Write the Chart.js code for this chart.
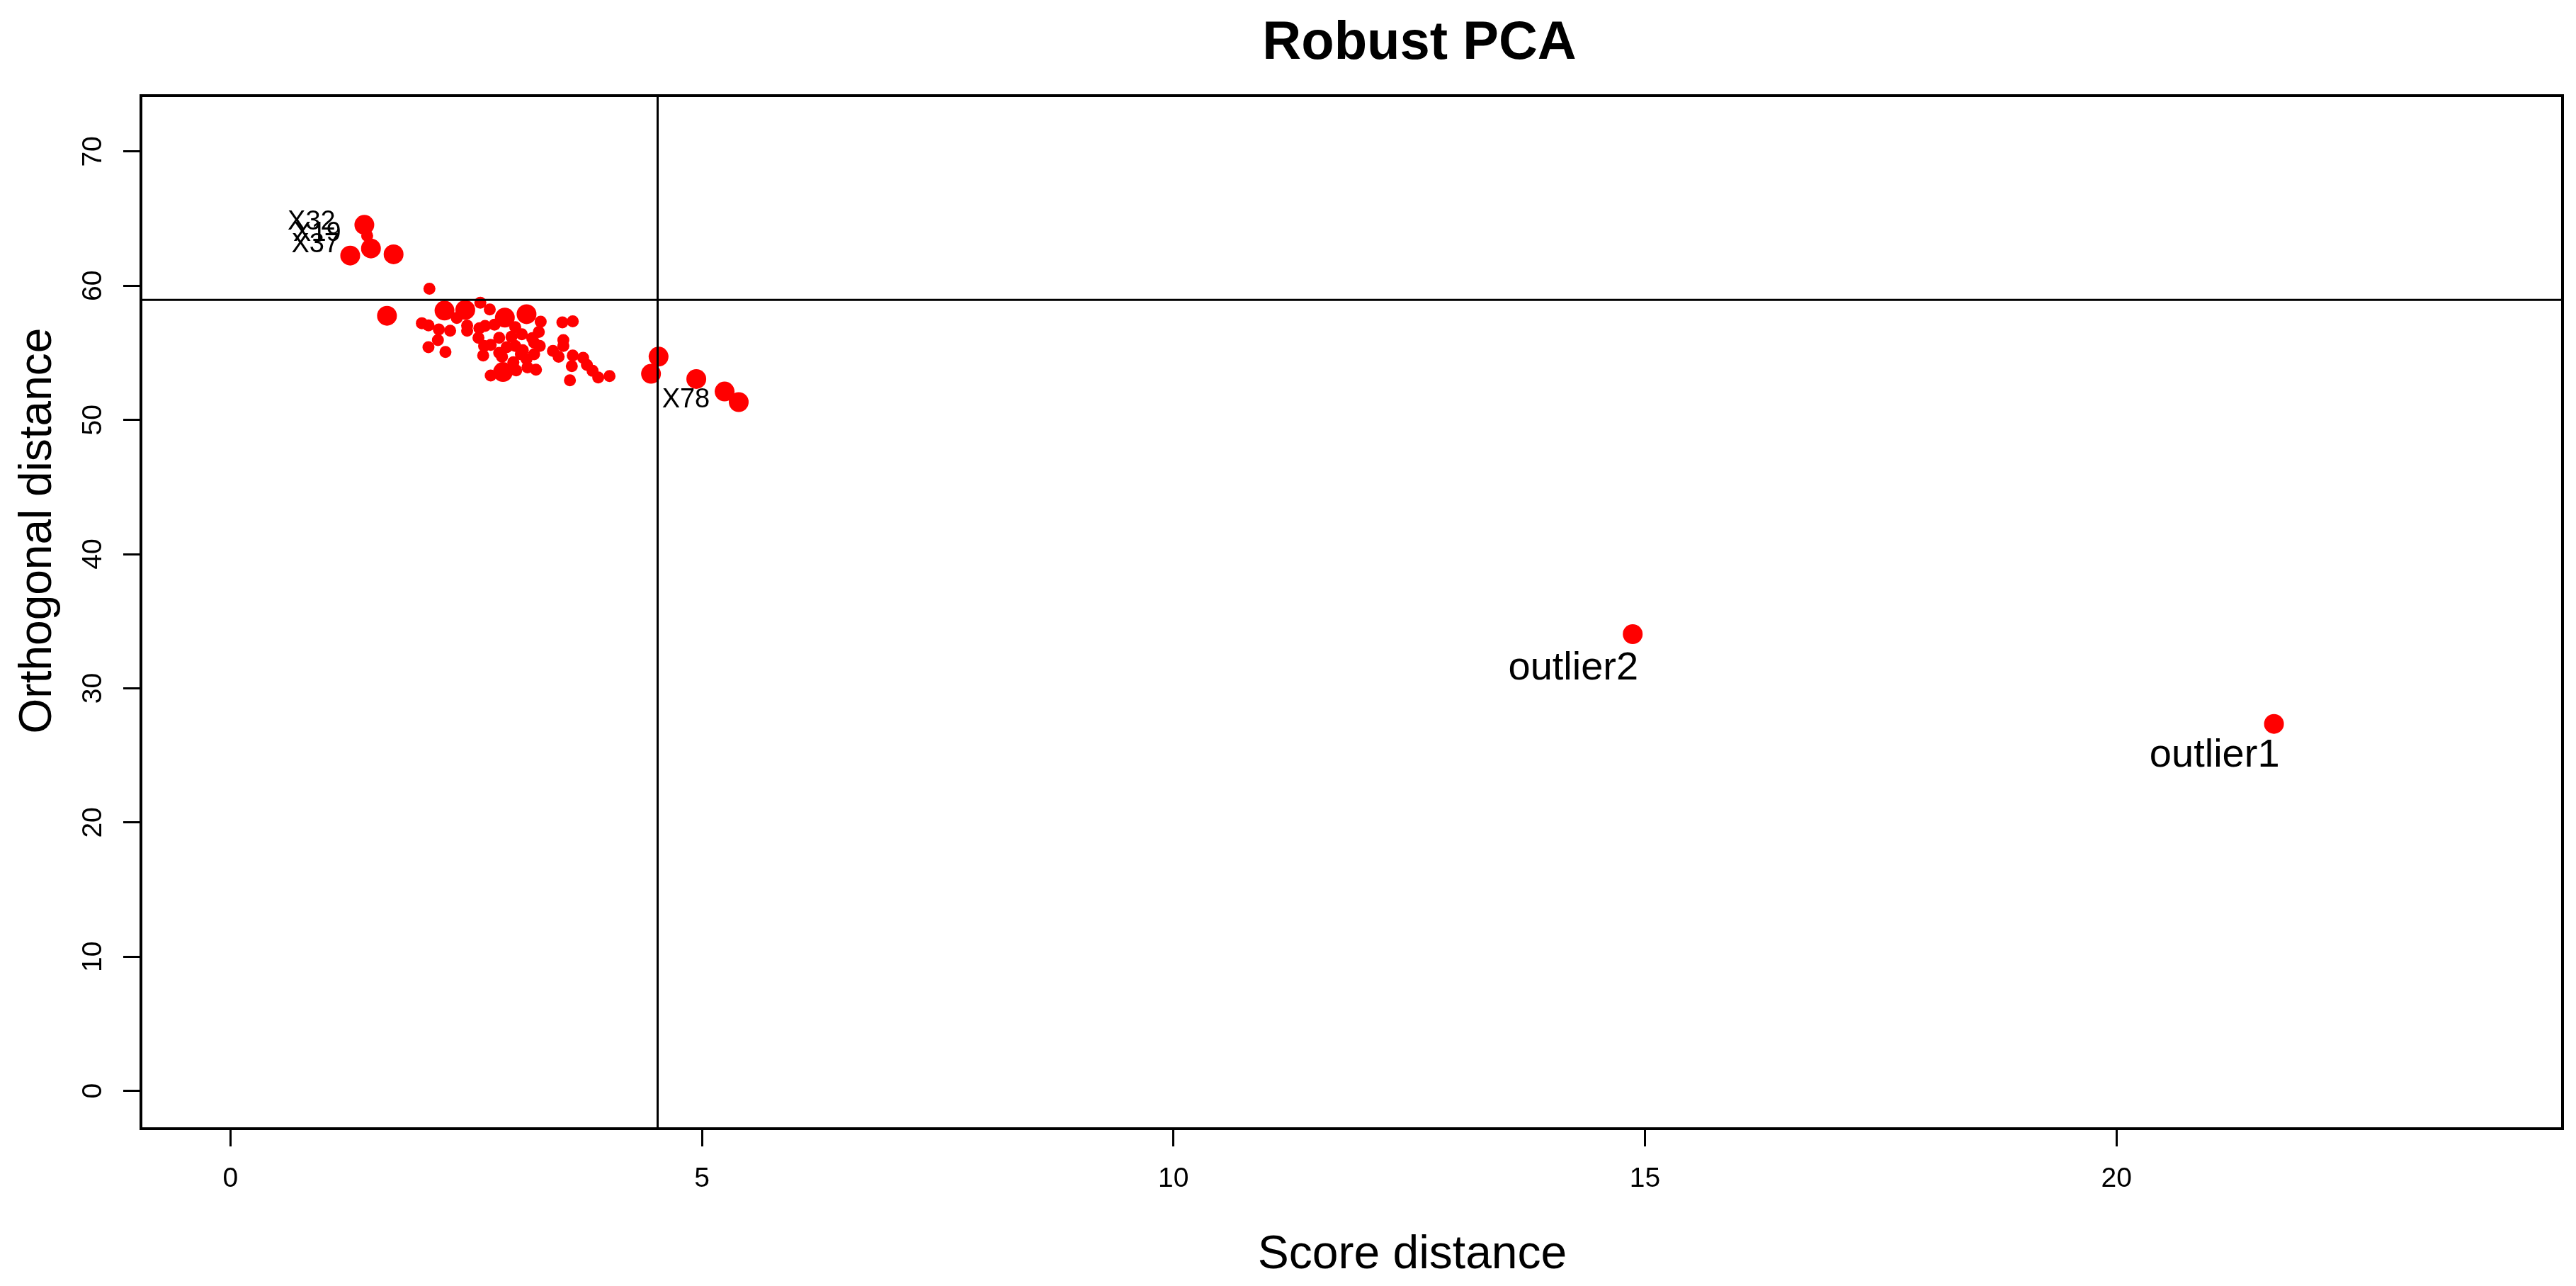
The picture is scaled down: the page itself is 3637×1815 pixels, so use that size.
<!DOCTYPE html>
<html>
<head>
<meta charset="utf-8">
<title>Robust PCA</title>
<script src="https://cdn.jsdelivr.net/npm/chart.js@4.4.1/dist/chart.umd.min.js"></script>
<style>
    html, body { margin: 0; padding: 0; background: #fff; }
    #ddplot { display: block; }
</style>
</head>
<body>
<canvas id="ddplot" width="3637" height="1815"></canvas>
<script>
// Robust PCA — distance-distance plot (score distance vs orthogonal distance)

// regular observations (small markers)
const sdRegular = [
    1.45, 2.11, 2.65, 2.75, 3.29, 3.27, 3.52, 3.63, 2.03, 2.10,
    2.21, 2.33, 2.51, 2.51, 2.20, 2.10, 2.28, 2.64, 2.70, 2.63,
    2.68, 2.69, 2.85, 2.76, 3.02, 3.09, 3.02, 2.93, 2.88, 3.08,
    3.14, 3.15, 3.24, 3.22, 3.22, 3.28, 2.76, 3.03, 3.42, 3.48,
    3.53, 3.53, 3.63, 3.62, 3.60, 3.74, 3.78, 3.84, 3.90, 4.02,
    2.98, 3.10, 2.85, 3.00, 2.80, 3.20, 2.40
];
const odRegular = [
    63.73, 59.78, 58.73, 58.23, 57.32, 56.56, 57.27, 57.35, 57.21, 57.04,
    56.74, 56.65, 57.03, 56.65, 55.95, 55.42, 55.07, 56.83, 57.00, 56.12,
    54.80, 55.51, 56.12, 55.59, 56.91, 56.39, 55.51, 55.42, 54.71, 54.89,
    54.54, 53.92, 53.75, 54.89, 55.77, 55.51, 53.31, 53.69, 55.15, 54.71,
    55.95, 55.51, 54.80, 54.01, 52.95, 54.63, 54.10, 53.66, 53.17, 53.27,
    56.20, 55.20, 55.00, 54.30, 57.10, 56.10, 57.60
];

// heavier-weighted observations (large markers)
const sdHeavy = [
    1.42, 1.49, 1.27, 1.73, 1.66, 2.27, 2.49, 2.91, 3.14, 2.89,
    4.54, 4.46, 4.94, 5.24, 5.39, 14.87, 21.67
];
const odHeavy = [
    64.54, 62.78, 62.25, 62.34, 57.76, 58.15, 58.20, 57.62, 57.88, 53.57,
    54.72, 53.44, 53.05, 52.12, 51.33, 34.04, 27.35
];

// cutoff values
const cutoffSD = 4.53;
const cutoffOD = 58.94;

// flagged observation ids
const idText = ["X32", "X19", "X37", "X78"];
const idSD = [0.86, 0.92, 0.90, 4.83];
const idOD = [64.89, 64.05, 63.24, 51.64];

// planted outliers
const outlierText = ["outlier2", "outlier1"];
const outlierSD = [14.24, 21.04];
const outlierOD = [31.73, 25.20];

// axis ticks
const sdTicks = [0, 5, 10, 15, 20];
const odTicks = [0, 10, 20, 30, 40, 50, 60, 70];

const FONT = '"Liberation Sans", Arial, Helvetica, sans-serif';

function toPoints(xs, ys) {
    return xs.map((x, i) => ({ x: x, y: ys[i] }));
}

function drawCapCentered(ctx, text, px, py, size) {
    ctx.font = size + "px " + FONT;
    ctx.textAlign = "center";
    ctx.textBaseline = "alphabetic";
    ctx.fillText(text, px, py + size * 0.358);
}

const whiteBackground = {
    id: "whiteBackground",
    beforeDraw(chart) {
        const c = chart.ctx;
        c.save();
        c.fillStyle = "#ffffff";
        c.fillRect(0, 0, chart.width, chart.height);
        c.restore();
    }
};

const decorations = {
    id: "decorations",
    afterDatasetsDraw(chart) {
        const c = chart.ctx;
        const a = chart.chartArea;
        const xs = chart.scales.x;
        const ys = chart.scales.y;

        c.save();
        c.strokeStyle = "#000";
        c.fillStyle = "#000";

        // cutoff lines
        c.lineWidth = 3;
        const vx = xs.getPixelForValue(cutoffSD);
        const hy = ys.getPixelForValue(cutoffOD);
        c.beginPath();
        c.moveTo(vx, a.top);
        c.lineTo(vx, a.bottom);
        c.moveTo(a.left, hy);
        c.lineTo(a.right, hy);
        c.stroke();

        // plot frame
        c.lineWidth = 4;
        c.strokeRect(a.left, a.top, a.right - a.left, a.bottom - a.top);

        // point labels
        idText.forEach((t, i) => {
            drawCapCentered(c, t, xs.getPixelForValue(idSD[i]), ys.getPixelForValue(idOD[i]), 38);
        });
        outlierText.forEach((t, i) => {
            drawCapCentered(c, t, xs.getPixelForValue(outlierSD[i]), ys.getPixelForValue(outlierOD[i]), 56);
        });

        // y tick labels, rotated like R's default
        c.font = "39px " + FONT;
        c.textAlign = "center";
        c.textBaseline = "alphabetic";
        ys.ticks.forEach(t => {
            c.save();
            c.translate(143, ys.getPixelForValue(t.value));
            c.rotate(-Math.PI / 2);
            c.fillText(String(t.value), 0, 0);
            c.restore();
        });

        // titles
        c.font = "bold 76px " + FONT;
        c.fillText("Robust PCA", 2004, 83);

        c.font = "66px " + FONT;
        c.fillText("Score distance", 1994, 1790);

        c.save();
        c.translate(72, 749);
        c.rotate(-Math.PI / 2);
        c.font = "64px " + FONT;
        c.fillText("Orthogonal distance", 0, 0);
        c.restore();

        c.restore();
    }
};

new Chart(document.getElementById("ddplot"), {
    type: "scatter",
    data: {
        datasets: [
            {
                label: "regular",
                data: toPoints(sdRegular, odRegular),
                backgroundColor: "#ff0000",
                borderWidth: 0,
                pointRadius: 8.5,
                pointHoverRadius: 8.5
            },
            {
                label: "heavy",
                data: toPoints(sdHeavy, odHeavy),
                backgroundColor: "#ff0000",
                borderWidth: 0,
                pointRadius: 14,
                pointHoverRadius: 14
            }
        ]
    },
    options: {
        responsive: false,
        devicePixelRatio: 1,
        animation: false,
        events: [],
        layout: { padding: { top: 135, right: 19, left: 0, bottom: 0 } },
        plugins: {
            legend: { display: false },
            tooltip: { enabled: false },
            title: { display: false }
        },
        scales: {
            x: {
                type: "linear",
                min: -0.949,
                max: 24.73,
                afterFit: s => { s.height = 222; },
                afterBuildTicks: s => { s.ticks = sdTicks.map(v => ({ value: v })); },
                border: { display: false },
                grid: {
                    drawOnChartArea: false,
                    drawTicks: true,
                    tickLength: 25,
                    tickWidth: 3,
                    tickColor: "#000"
                },
                ticks: {
                    color: "#000",
                    padding: 23,
                    maxRotation: 0,
                    font: { family: FONT, size: 39 }
                }
            },
            y: {
                type: "linear",
                min: -2.814,
                max: 74.165,
                afterFit: s => { s.width = 199; },
                afterBuildTicks: s => { s.ticks = odTicks.map(v => ({ value: v })); },
                border: { display: false },
                grid: {
                    drawOnChartArea: false,
                    drawTicks: true,
                    tickLength: 25,
                    tickWidth: 3,
                    tickColor: "#000"
                },
                ticks: { display: false }
            }
        }
    },
    plugins: [whiteBackground, decorations]
});
</script>
</body>
</html>
